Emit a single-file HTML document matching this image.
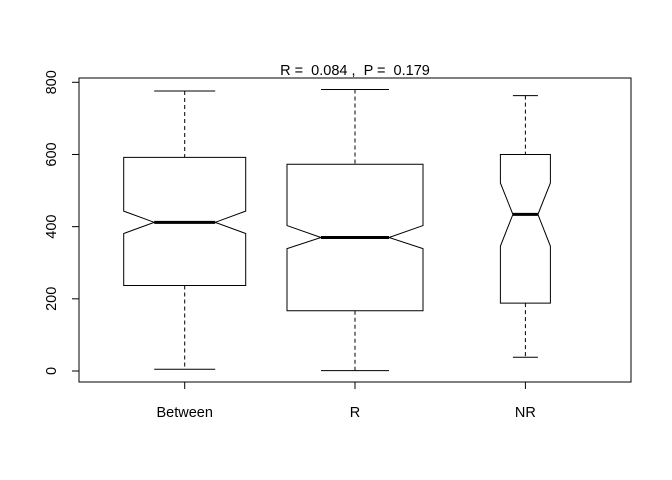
<!DOCTYPE html>
<html><head><meta charset="utf-8"><style>
html,body{margin:0;padding:0;background:#fff}
svg{display:block;font-family:"Liberation Sans",sans-serif}
text{white-space:pre}
</style></head><body>
<svg id="chart" width="672" height="480">
<text x="355" y="75" text-anchor="middle" font-size="14.5" xml:space="preserve">R =  0.084 ,  P =  0.179</text>
<rect x="79" y="78" width="552" height="304" fill="none" stroke="#000"/>
<g id="marks"></g>
</svg>
<script>
const categories = ["Between", "R", "NR"];
const lowWhisker = [5, 1, 38];
const q1 = [237, 167, 188];
const medians = [412, 370, 434];
const q3 = [592, 573, 600];
const highWhisker = [776, 780, 763];
const notchLow = [381, 339, 346];
const notchHigh = [443, 403, 521];
const boxHalfWidth = [61, 68, 25];
const yTicks = [0, 200, 400, 600, 800];

const centers = [184.7, 355, 525.4];
function y(v){ return 371 - v * (288.7/800); }
const NS = "http://www.w3.org/2000/svg";
const g = document.getElementById("marks");
function mk(tag, attrs){
  const e = document.createElementNS(NS, tag);
  for (const k in attrs) e.setAttribute(k, attrs[k]);
  g.appendChild(e); return e;
}
const yl = mk("line",{x1:79,x2:79,y1:y(0),y2:y(800),stroke:"#000"});


yTicks.forEach(t=>{
  const tk = mk("line",{x1:72,x2:79,y1:y(t),y2:y(t),stroke:"#000"});
  
  
  const tx = mk("text",{x:0,y:0,"font-size":14.5,"text-anchor":"middle",transform:`translate(56,${y(t)}) rotate(-90)`});
  tx.textContent = t;
  
  
});
categories.forEach((c,i)=>{
  const cx = centers[i], hw = boxHalfWidth[i], nw = hw/2;
  const tk = mk("line",{x1:cx,x2:cx,y1:382,y2:389,stroke:"#000"});
  
  
  const lab = mk("text",{x:cx,y:417,"font-size":14.5,"text-anchor":"middle"});
  lab.textContent = c;
  
  
  const w1 = mk("line",{x1:cx,x2:cx,y1:y(highWhisker[i]),y2:y(q3[i]),stroke:"#000","stroke-dasharray":"4,3"});
  
  
  const w2 = mk("line",{x1:cx,x2:cx,y1:y(q1[i]),y2:y(lowWhisker[i]),stroke:"#000","stroke-dasharray":"4,3"});
  
  
  const ch = mk("line",{x1:cx-nw,x2:cx+nw,y1:y(highWhisker[i]),y2:y(highWhisker[i]),stroke:"#000"});
  
  
  const cl = mk("line",{x1:cx-nw,x2:cx+nw,y1:y(lowWhisker[i]),y2:y(lowWhisker[i]),stroke:"#000"});
  
  
  const pts = [
    [cx-hw,y(q1[i])],[cx-hw,y(notchLow[i])],[cx-nw,y(medians[i])],[cx-hw,y(notchHigh[i])],
    [cx-hw,y(q3[i])],[cx+hw,y(q3[i])],[cx+hw,y(notchHigh[i])],[cx+nw,y(medians[i])],
    [cx+hw,y(notchLow[i])],[cx+hw,y(q1[i])]
  ].map(p=>p.join(",")).join(" ");
  const box = mk("polygon",{points:pts,fill:"#fff",stroke:"#000"});
  
  
  const med = mk("line",{x1:cx-nw,x2:cx+nw,y1:y(medians[i]),y2:y(medians[i]),stroke:"#000","stroke-width":3});
  
  
});
</script>
</body></html>
